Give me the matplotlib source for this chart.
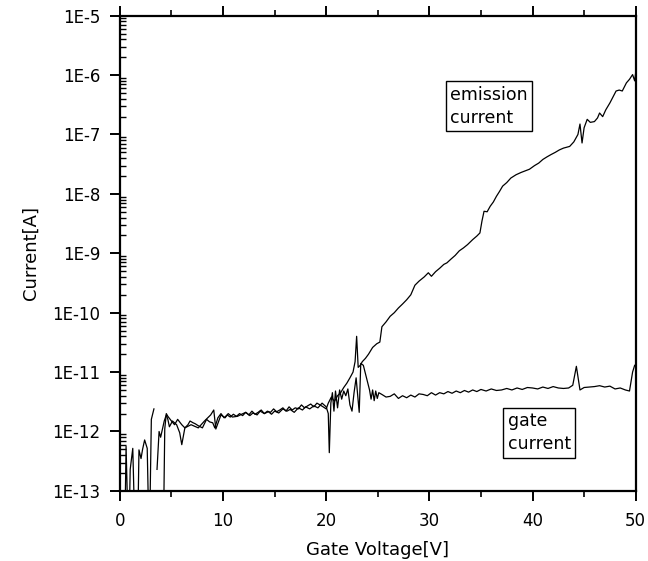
import numpy as np
import matplotlib.pyplot as plt
from matplotlib.ticker import LogLocator, NullFormatter, MultipleLocator

plt.rcParams['font.family'] = ['DejaVu Sans']

# emission current (A) vs gate voltage (V); 1e-14 = below the axis floor
emis_v = [0.45, 0.6, 0.85, 1.0, 1.25, 1.5, 1.7, 1.85, 2.05, 2.2, 2.4, 2.65, 2.85, 3.05, 3.3,
          np.nan,
          4.1, 4.2, 4.35, 4.5, 4.65, 5.0, 5.3, 5.6, 6.0, 6.3, 6.6, 6.8, 7.1, 7.3, 7.6, 8.0,
          8.4, 8.7, 9.0, 9.2, 9.5, 9.8, 10.1, 10.4, 10.7, 11.0, 11.3, 11.6, 11.9, 12.2,
          12.5, 12.8, 13.1, 13.4, 13.7, 14.0, 14.3, 14.6, 14.9, 15.2, 15.5, 15.8, 16.1,
          16.4, 16.7, 17.0, 17.3, 17.6, 17.9, 18.2, 18.5, 18.8, 19.1, 19.4, 19.7, 20.0,
          20.2, 20.5, 20.8, 21.1, 21.4, 21.7, 22.0, 22.3, 22.6, 22.8, 22.95, 23.1, 23.3,
          23.5, 23.8, 24.1, 24.5, 24.9, 25.2, 25.4, 25.8, 26.2, 26.6, 27.0, 27.4, 27.8,
          28.2, 28.6, 29.0, 29.5, 29.9, 30.2, 30.6, 31.0, 31.4, 31.7, 32.1, 32.5, 32.9,
          33.3, 33.7, 34.2, 34.6, 34.9, 35.1, 35.3, 35.6, 35.9, 36.2, 36.5, 36.8, 37.1,
          37.5, 37.9, 38.4, 38.9, 39.3, 39.7, 40.2, 40.6, 41.0, 41.4, 41.8, 42.2, 42.6,
          43.0, 43.3, 43.6, 44.0, 44.4, 44.6, 44.8, 45.0, 45.3, 45.6, 46.0, 46.3, 46.5,
          46.8, 47.1, 47.5, 47.8, 48.1, 48.4, 48.7, 49.1, 49.4, 49.7, 49.9, 50.0]
emis_i = [1e-14, 5.6e-13, 1e-14, 2.3e-13, 5.2e-13, 1e-14, 1e-14, 4.9e-13, 3.5e-13, 5e-13,
          7.2e-13, 5.2e-13, 1e-14, 1.6e-12, 2.4e-12,
          np.nan,
          1e-14, 1e-14, 1.1e-12, 2.0e-12, 1.8e-12, 1.5e-12, 1.3e-12, 1.6e-12, 1.3e-12,
          1.15e-12, 1.3e-12, 1.5e-12, 1.4e-12, 1.35e-12, 1.25e-12, 1.15e-12, 1.6e-12,
          1.45e-12, 1.4e-12, 1.15e-12, 1.7e-12, 2.0e-12, 1.7e-12, 1.9e-12, 1.75e-12,
          1.95e-12, 1.8e-12, 2.0e-12, 1.85e-12, 2.1e-12, 1.9e-12, 2.2e-12, 1.95e-12,
          2.1e-12, 2.3e-12, 2.0e-12, 2.2e-12, 2.1e-12, 2.4e-12, 2.15e-12, 2.3e-12,
          2.5e-12, 2.2e-12, 2.6e-12, 2.3e-12, 2.5e-12, 2.4e-12, 2.8e-12, 2.5e-12,
          2.7e-12, 2.9e-12, 2.6e-12, 3.0e-12, 2.8e-12, 2.6e-12, 2.4e-12,
          3.0e-12, 3.8e-12, 3.2e-12, 4.0e-12, 4.5e-12, 5.5e-12, 6.5e-12, 8.0e-12,
          1.0e-11, 1.5e-11, 4.0e-11, 1.2e-11, 1.3e-11, 1.5e-11, 1.7e-11, 2.0e-11,
          2.6e-11, 3.0e-11, 3.2e-11, 5.8e-11, 7.0e-11, 8.7e-11, 1.0e-10, 1.2e-10,
          1.4e-10, 1.65e-10, 2.0e-10, 2.9e-10, 3.4e-10, 4.0e-10, 4.7e-10, 4.1e-10,
          4.9e-10, 5.6e-10, 6.5e-10, 6.9e-10, 8.0e-10, 9.2e-10, 1.1e-9, 1.23e-9,
          1.4e-9, 1.7e-9, 1.95e-9, 2.2e-9, 3.5e-9, 5.1e-9, 5.0e-9, 6.2e-9, 7.3e-9,
          9.1e-9, 1.1e-8, 1.35e-8, 1.55e-8, 1.85e-8, 2.1e-8, 2.3e-8, 2.45e-8, 2.6e-8,
          3.0e-8, 3.3e-8, 3.8e-8, 4.2e-8, 4.6e-8, 5.0e-8, 5.5e-8, 5.9e-8, 6.1e-8,
          6.3e-8, 7.5e-8, 1.0e-7, 1.5e-7, 7.2e-8, 1.3e-7, 1.8e-7, 1.6e-7, 1.65e-7,
          1.9e-7, 2.3e-7, 2.0e-7, 2.6e-7, 3.4e-7, 4.3e-7, 5.4e-7, 5.6e-7, 5.4e-7,
          7.4e-7, 8.5e-7, 1.02e-6, 8.0e-7, 1.1e-6]

# gate current (A) vs gate voltage (V)
gate_v = [3.6, 3.8, 3.95, 4.3, 4.5, 4.65, 4.8, 5.1, 5.5, 5.8, 6.0, 6.3, 6.9, 7.6, 8.2,
          8.8, 9.1, 9.3, 9.8, 10.2, 10.5, 10.9, 11.4, 11.8, 12.2, 12.6, 12.9, 13.3, 13.6,
          14.0, 14.4, 14.7, 15.0, 15.4, 15.8, 16.2, 16.5, 16.9, 17.3, 17.7, 18.0, 18.4,
          18.8, 19.2, 19.6, 20.0, 20.2, 20.3, 20.45, 20.6, 20.75, 20.9, 21.1, 21.3, 21.5,
          21.7, 21.9, 22.1, 22.3, 22.5, 22.7, 22.9, 23.2, 23.35, 23.6, 23.9, 24.2, 24.35,
          24.5, 24.65, 24.8, 24.95, 25.1, 25.4, 25.8, 26.2, 26.6, 27.0, 27.4, 27.8, 28.2,
          28.6, 29.0, 29.4, 29.8, 30.2, 30.6, 31.0, 31.4, 31.8, 32.2, 32.6, 33.0, 33.4,
          33.8, 34.2, 34.6, 35.0, 35.5, 36.0, 36.5, 37.0, 37.5, 38.0, 38.5, 39.0, 39.5,
          40.0, 40.5, 41.0, 41.5, 42.0, 42.5, 43.0, 43.5, 43.9, 44.25, 44.6, 45.0, 45.5,
          46.0, 46.5, 47.0, 47.5, 48.0, 48.5, 49.0, 49.4, 49.7, 49.9]
gate_i = [2.3e-13, 1.0e-12, 8.0e-13, 1.5e-12, 1.9e-12, 1.6e-12, 1.2e-12, 1.5e-12, 1.3e-12,
          9.5e-13, 6.0e-13, 1.15e-12, 1.3e-12, 1.15e-12, 1.5e-12, 1.9e-12, 2.3e-12,
          1.1e-12, 1.9e-12, 1.7e-12, 2.0e-12, 1.75e-12, 1.8e-12, 1.95e-12, 2.1e-12,
          1.85e-12, 2.05e-12, 1.9e-12, 2.2e-12, 2.0e-12, 2.15e-12, 1.95e-12, 2.2e-12,
          2.05e-12, 2.4e-12, 2.2e-12, 2.35e-12, 2.1e-12, 2.5e-12, 2.3e-12, 2.6e-12,
          2.4e-12, 2.7e-12, 2.5e-12, 3.0e-12, 2.6e-12, 2.0e-12, 4.4e-13, 3.0e-12,
          4.5e-12, 2.2e-12, 4.8e-12, 2.5e-12, 5.0e-12, 3.5e-12, 4.8e-12, 4.0e-12,
          5.2e-12, 2.8e-12, 2.2e-12, 4.5e-12, 8.0e-12, 2.1e-12, 1.4e-11, 1.3e-11,
          8.0e-12, 5.0e-12, 3.5e-12, 5.0e-12, 3.3e-12, 4.8e-12, 3.6e-12, 4.5e-12,
          4.2e-12, 3.8e-12, 3.9e-12, 4.3e-12, 3.6e-12, 4.0e-12, 3.7e-12, 4.1e-12,
          3.8e-12, 4.3e-12, 4.2e-12, 4.0e-12, 4.5e-12, 4.1e-12, 4.5e-12, 4.3e-12,
          4.7e-12, 4.4e-12, 4.8e-12, 4.5e-12, 4.9e-12, 4.6e-12, 5.0e-12, 4.7e-12,
          5.1e-12, 4.8e-12, 5.2e-12, 4.9e-12, 5.0e-12, 5.3e-12, 5.0e-12, 5.4e-12,
          5.1e-12, 5.5e-12, 5.4e-12, 5.2e-12, 5.6e-12, 5.3e-12, 5.7e-12, 5.4e-12,
          5.3e-12, 5.4e-12, 6.0e-12, 1.25e-11, 5.0e-12, 5.5e-12, 5.6e-12, 5.7e-12,
          5.9e-12, 5.6e-12, 5.8e-12, 5.2e-12, 5.4e-12, 5.0e-12, 4.8e-12, 1.0e-11,
          1.3e-11]

y_exps = list(range(-13, -4))
y_labels = ['1E%d' % e for e in y_exps]

fig = plt.figure(figsize=(6.48, 5.61), dpi=100)
ax = fig.add_axes([0.185, 0.125, 0.796, 0.847])

ax.plot(emis_v, emis_i, color='black', lw=0.9)
ax.plot(gate_v, gate_i, color='black', lw=0.9)

ax.set_yscale('log')
ax.set_xlim(0, 50)
ax.set_ylim(1e-13, 1e-5)
ax.set_yticks([10.0 ** e for e in y_exps])
ax.set_yticklabels(y_labels)
ax.yaxis.set_minor_locator(LogLocator(base=10, subs=np.arange(2, 10)))
ax.yaxis.set_minor_formatter(NullFormatter())
ax.xaxis.set_major_locator(MultipleLocator(10))
ax.xaxis.set_minor_locator(MultipleLocator(5))

for s in ax.spines.values():
    s.set_linewidth(1.6)

ax.tick_params(axis='x', which='major', direction='out', length=7, width=1.4,
               top=True, labelsize=12, pad=8)
ax.tick_params(axis='x', which='minor', direction='out', length=4, width=1.2, top=True)
ax.tick_params(axis='y', which='major', direction='out', length=7, width=1.4,
               right=False, labelsize=12, pad=7)
ax.tick_params(axis='y', which='minor', direction='in', length=4, width=1.0, right=False)

ax.set_xlabel('Gate Voltage[V]', fontsize=13, labelpad=8)
ax.set_ylabel('Current[A]', fontsize=13, labelpad=9)

box = dict(boxstyle='square,pad=0.25', facecolor='white', edgecolor='black', lw=1.0)
ax.text(32.0, 3.0e-7, 'emission\ncurrent', fontsize=12.5, ha='left', va='center',
        linespacing=1.35, bbox=box)
ax.text(37.6, 9.5e-13, 'gate\ncurrent', fontsize=12.5, ha='left', va='center',
        linespacing=1.35, bbox=box)

fig.savefig('out.png', dpi=100)
